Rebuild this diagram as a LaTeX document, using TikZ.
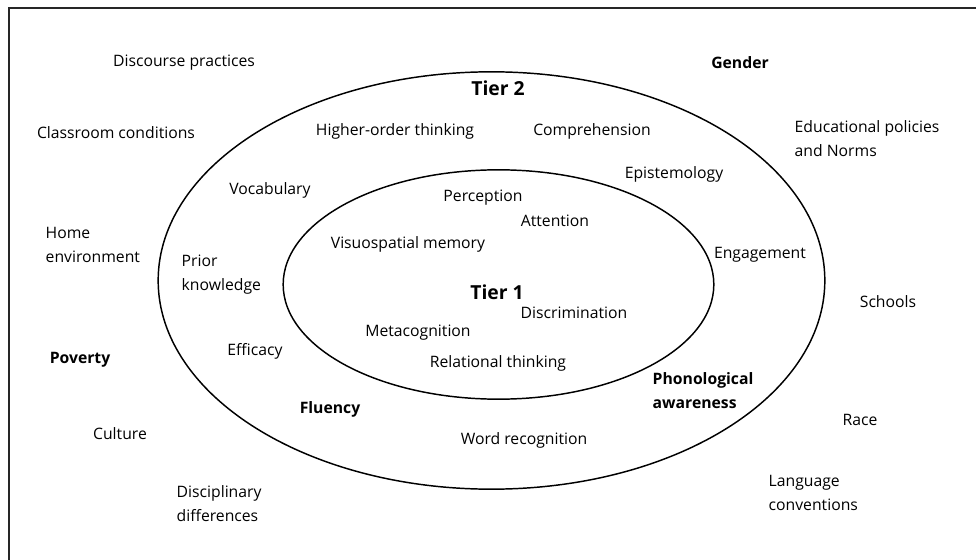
\documentclass[tikz,border=0pt]{standalone}
\usepackage{fontspec}
\setmainfont{Open Sans}
\usetikzlibrary{shapes.geometric, positioning}

\begin{document}
\begin{tikzpicture} [x = 0.75pt, y = -0.75pt, font = \fontsize{11.8}{18}\selectfont,
		ring/.style = {ellipse, draw, line width = 1.1pt, inner sep = 0pt},
		key/.style = {font = \fontsize{11.8}{18}\selectfont\bfseries},
		tier/.style = {font = \fontsize{14.5}{18}\selectfont\bfseries},
		twoline/.style = {align = left, anchor = west}]
		% Page frame
		\useasboundingbox (0,0) rectangle (976,560);
		\draw [line width = 1.5pt, black!85] (976,8) -- (9,8) -- (9,560);

		% Rings : every factor sits inside, between or outside them
		\node (outer) [ring, minimum width = 500pt, minimum height = 313pt] at (491.5,280.5) {};
		\node (inner) [ring, minimum width = 323pt, minimum height = 172pt] at (498.5,284.5) {};
		\node (tier2) [tier] at (498,88) {Tier 2};
		\node (tier1) [tier] at (497,292) {Tier 1};

		% Tier 1 factors
		\node (perc) at (483,198) {Perception};
		\node (attn) at (555,221) {Attention};
		\node (visu) at (408,244) {Visuospatial memory};
		\node (disc) at (574,313) {Discrimination};
		\node (meta) at (418,333) {Metacognition};
		\node (rela) at (498,363) {Relational thinking};

		% Tier 2 factors
		\node (high) at (395,131) {Higher-order thinking};
		\node (comp) at (592,131) {Comprehension};
		\node (epis) at (674,174) {Epistemology};
		\node (voca) at (270,190) {Vocabulary};
		\node (prio) [twoline] at (177,275) {Prior\\knowledge};
		\node (enga) at (760,255) {Engagement};
		\node (effi) at (255,351) {Efficacy};
		\node (phon) [key, twoline] at (648,391) {Phonological\\awareness};
		\node (flue) [key] at (330,409) {Fluency};
		\node (word) at (524,440) {Word recognition};

		% Outside factors
		\node (disco) at (184,63) {Discourse practices};
		\node (gend) [key] at (740,63) {Gender};
		\node (clas) at (116,133) {Classroom conditions};
		\node (educ) [twoline] at (790,139) {Educational policies\\and Norms};
		\node (home) [twoline] at (41,245) {Home\\environment};
		\node (scho) at (888,302) {Schools};
		\node (pove) [key] at (80,360) {Poverty};
		\node (cult) at (120,434) {Culture};
		\node (race) at (860,420) {Race};
		\node (lang) [twoline] at (764,493) {Language\\conventions};
		\node (disci) [twoline] at (172,504) {Disciplinary\\differences};
	\end{tikzpicture}
\end{document}
